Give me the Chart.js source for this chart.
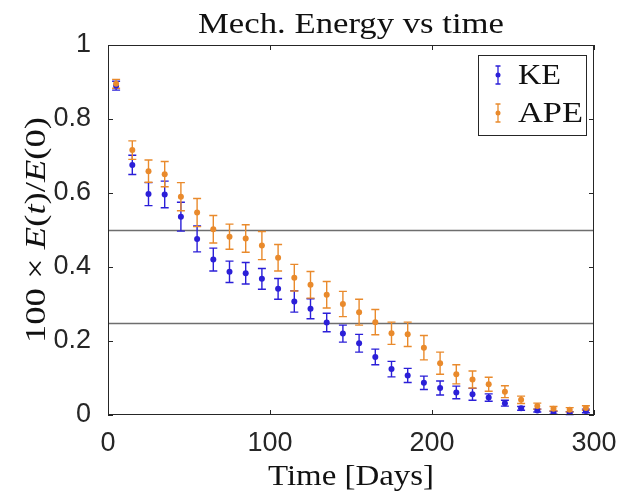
<!DOCTYPE html>
<html>
<head>
<meta charset="utf-8">
<script src="https://cdn.jsdelivr.net/npm/chart.js@4/dist/chart.umd.min.js"></script>
<style>
  html, body { margin: 0; padding: 0; background: #fff; }
  #wrap { width: 623px; height: 491px; }
</style>
</head>
<body>
<div id="wrap"><canvas id="energyChart" width="623" height="491"></canvas></div>
<script>
// time axis (days) and the two energy series with their error bars
const days = [5, 15, 25, 35, 45, 55, 65, 75, 85, 95, 105, 115, 125, 135, 145,
              155, 165, 175, 185, 195, 205, 215, 225, 235, 245, 255, 265, 275, 285, 295];
const ke = [0.89, 0.676, 0.597, 0.596, 0.536, 0.476, 0.42, 0.387, 0.383, 0.368,
            0.341, 0.307, 0.287, 0.25, 0.22, 0.194, 0.157, 0.124, 0.107, 0.087,
            0.073, 0.061, 0.056, 0.047, 0.032, 0.018, 0.012, 0.006, 0.005, 0.011];
const keErr = [0.012, 0.026, 0.031, 0.036, 0.039, 0.035, 0.031, 0.029, 0.029, 0.028,
               0.028, 0.029, 0.027, 0.025, 0.023, 0.024, 0.021, 0.021, 0.019, 0.018,
               0.019, 0.017, 0.016, 0.01, 0.008, 0.005, 0.004, 0.004, 0.004, 0.005];
const ape = [0.895, 0.716, 0.659, 0.651, 0.59, 0.547, 0.502, 0.482, 0.477, 0.458,
             0.425, 0.371, 0.352, 0.325, 0.30, 0.278, 0.251, 0.221, 0.218, 0.182,
             0.14, 0.11, 0.096, 0.083, 0.063, 0.041, 0.024, 0.017, 0.014, 0.019];
const apeErr = [0.012, 0.025, 0.03, 0.034, 0.038, 0.038, 0.037, 0.034, 0.037, 0.038,
                0.036, 0.036, 0.036, 0.036, 0.034, 0.035, 0.034, 0.03, 0.033, 0.033,
                0.03, 0.026, 0.023, 0.019, 0.016, 0.01, 0.008, 0.006, 0.006, 0.006];
const refLines = [0.5, 0.25];
const xTicks = [0, 100, 200, 300];
const yTicks = [0, 0.2, 0.4, 0.6, 0.8, 1];

const BLUE = '#2b1fd8';
const ORANGE = '#e98a2c';
const SERIF = '"Liberation Serif", "DejaVu Serif", serif';
const SANS = '"Liberation Sans", Arial, sans-serif';

function toPoints(xs, ys, errs) {
  return xs.map((x, i) => ({ x: x, y: ys[i], err: errs[i] }));
}

// draws runs of [text, style] left to right, stretched to a given width
// (the LaTeX font in the original is wider than Liberation Serif)
function drawRuns(ctx, runs, size, startX, baseY, width) {
  let natural = 0;
  runs.forEach(r => { ctx.font = r[1] + ' ' + size + 'px ' + SERIF; natural += ctx.measureText(r[0]).width; });
  const sx = width / natural;
  ctx.save();
  ctx.translate(startX, baseY);
  ctx.scale(sx, 1);
  let cx = 0;
  runs.forEach(r => {
    ctx.font = r[1] + ' ' + size + 'px ' + SERIF;
    ctx.fillText(r[0], cx, 0);
    cx += ctx.measureText(r[0]).width;
  });
  ctx.restore();
}

// horizontal reference lines, box, inside ticks
const framePlugin = {
  id: 'frame',
  beforeDatasetsDraw(chart) {
    const { ctx, chartArea: a, scales: { y } } = chart;
    ctx.save();
    ctx.strokeStyle = '#6e6e6e';
    ctx.lineWidth = 1.3;
    refLines.forEach(v => {
      const py = Math.round(y.getPixelForValue(v)) + 0.5;
      ctx.beginPath();
      ctx.moveTo(a.left, py);
      ctx.lineTo(a.right, py);
      ctx.stroke();
    });
    ctx.restore();
  },
  afterDatasetsDraw(chart) {
    const { ctx, chartArea: a, scales: { x, y } } = chart;
    ctx.save();
    ctx.strokeStyle = '#262626';
    ctx.lineWidth = 1;
    ctx.strokeRect(a.left + 0.5, a.top + 0.5, a.right - a.left - 1, a.bottom - a.top - 1);
    const len = 5;
    ctx.beginPath();
    xTicks.forEach(v => {
      const px = Math.round(x.getPixelForValue(v)) + 0.5;
      ctx.moveTo(px, a.bottom); ctx.lineTo(px, a.bottom - len);
      ctx.moveTo(px, a.top); ctx.lineTo(px, a.top + len);
    });
    yTicks.forEach(v => {
      const py = Math.round(y.getPixelForValue(v)) + 0.5;
      ctx.moveTo(a.left, py); ctx.lineTo(a.left + len, py);
      ctx.moveTo(a.right, py); ctx.lineTo(a.right - len, py);
    });
    ctx.stroke();
    ctx.restore();
  }
};

// vertical error bars with caps
const errorBarPlugin = {
  id: 'errorBars',
  beforeDatasetsDraw(chart) {
    const { ctx, scales: { x, y } } = chart;
    ctx.save();
    ctx.lineWidth = 1.4;
    chart.data.datasets.forEach(ds => {
      ctx.strokeStyle = ds.borderColor;
      ds.data.forEach(p => {
        const px = x.getPixelForValue(p.x);
        const top = y.getPixelForValue(p.y + p.err);
        const bot = y.getPixelForValue(Math.max(0, p.y - p.err));
        ctx.beginPath();
        ctx.moveTo(px, top); ctx.lineTo(px, bot);
        ctx.moveTo(px - 4, top); ctx.lineTo(px + 4, top);
        ctx.moveTo(px - 4, bot); ctx.lineTo(px + 4, bot);
        ctx.stroke();
      });
    });
    ctx.restore();
  }
};

// title, axis titles and the boxed legend
const labelsPlugin = {
  id: 'labels',
  afterDraw(chart) {
    const { ctx, chartArea: a } = chart;
    const midX = (a.left + a.right) / 2;
    const midY = (a.top + a.bottom) / 2;
    ctx.save();
    ctx.fillStyle = '#111';
    ctx.textBaseline = 'alphabetic';

    // title
    drawRuns(ctx, [['Mech. Energy vs time', 'normal']], 30, midX - 153, 33, 306);
    // x title
    drawRuns(ctx, [['Time [Days]', 'normal']], 30, midX - 83, 485, 166);
    // y title, rotated
    ctx.save();
    ctx.translate(45, midY);
    ctx.rotate(-Math.PI / 2);
    drawRuns(ctx, [['100 × ', 'normal'], ['E', 'italic'], ['(', 'normal'], ['t', 'italic'],
                   [')/', 'normal'], ['E', 'italic'], ['(0)', 'normal']], 30, -113, 0, 226);
    ctx.restore();

    // legend box
    const bx = 478.5, by = 55.5, bw = 108, bh = 80;
    ctx.fillStyle = '#fff';
    ctx.fillRect(bx, by, bw, bh);
    ctx.strokeStyle = '#262626';
    ctx.lineWidth = 1;
    ctx.strokeRect(bx, by, bw, bh);
    const widths = { KE: 43, APE: 65 };
    chart.data.datasets.forEach((ds, i) => {
      const cy = 75 + i * 38;
      ctx.strokeStyle = ds.borderColor;
      ctx.fillStyle = ds.borderColor;
      ctx.lineWidth = 1.3;
      ctx.beginPath();
      ctx.moveTo(498, cy - 9); ctx.lineTo(498, cy + 9);
      ctx.moveTo(495.5, cy - 9); ctx.lineTo(500.5, cy - 9);
      ctx.moveTo(495.5, cy + 9); ctx.lineTo(500.5, cy + 9);
      ctx.stroke();
      ctx.beginPath();
      ctx.arc(498, cy, 2.5, 0, Math.PI * 2);
      ctx.fill();
      ctx.fillStyle = '#111';
      drawRuns(ctx, [[ds.label, 'normal']], 30, 518, cy + 9, widths[ds.label] || 50);
    });
    ctx.restore();
  }
};

const ctx = document.getElementById('energyChart').getContext('2d');
new Chart(ctx, {
  type: 'scatter',
  data: {
    datasets: [
      {
        label: 'KE',
        data: toPoints(days, ke, keErr),
        borderColor: BLUE,
        backgroundColor: BLUE,
        pointRadius: 3,
        pointBorderWidth: 0,
        order: 2
      },
      {
        label: 'APE',
        data: toPoints(days, ape, apeErr),
        borderColor: ORANGE,
        backgroundColor: ORANGE,
        pointRadius: 3,
        pointBorderWidth: 0,
        order: 1
      }
    ]
  },
  options: {
    responsive: false,
    animation: false,
    layout: { padding: { left: 0, right: 29, top: 45, bottom: 0 } },
    plugins: {
      legend: { display: false },
      tooltip: { enabled: false },
      title: { display: false }
    },
    scales: {
      x: {
        type: 'linear',
        min: 0, max: 300,
        afterBuildTicks: s => { s.ticks = xTicks.map(v => ({ value: v })); },
        afterFit: s => { s.height = 76; },
        grid: { display: false },
        border: { display: false },
        ticks: { color: '#262626', font: { family: SANS, size: 27 }, padding: 4, callback: v => String(v) }
      },
      y: {
        type: 'linear',
        min: 0, max: 1,
        afterBuildTicks: s => { s.ticks = yTicks.map(v => ({ value: v })); },
        afterFit: s => { s.width = 108; },
        grid: { display: false },
        border: { display: false },
        ticks: { color: '#262626', font: { family: SANS, size: 27 }, padding: 9, callback: v => String(v) }
      }
    }
  },
  plugins: [framePlugin, errorBarPlugin, labelsPlugin]
});
</script>
</body>
</html>
